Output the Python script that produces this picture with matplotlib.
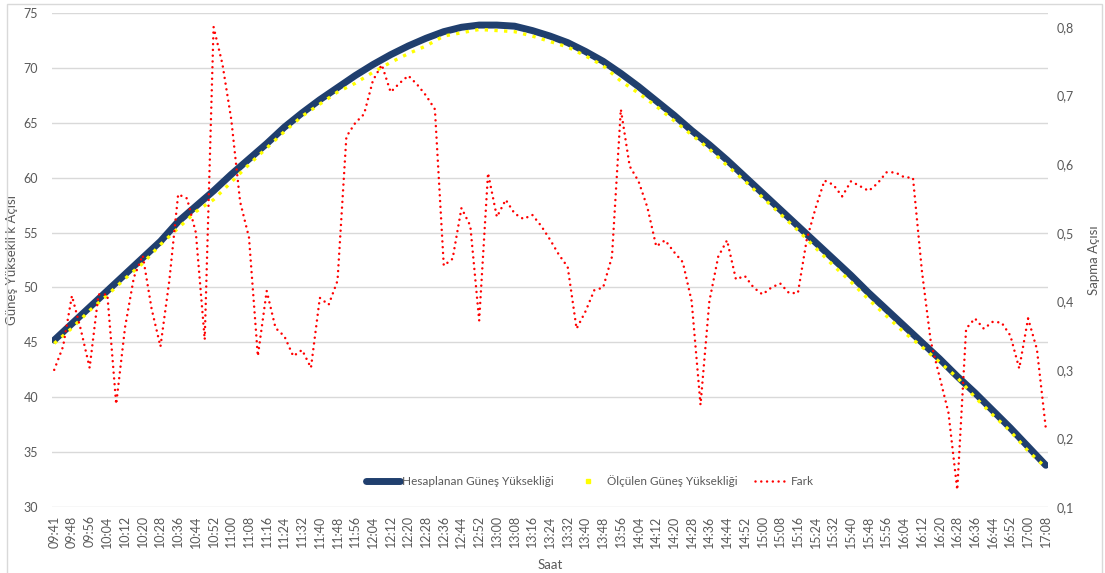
import matplotlib
matplotlib.use("Agg")
import matplotlib.pyplot as plt
from matplotlib.lines import Line2D
from matplotlib.patches import Rectangle
from matplotlib.ticker import FuncFormatter
import numpy as np

plt.rcParams['font.family'] = ['Lato', 'DejaVu Sans']

# tick labels (every 4th measurement time)
times = ["09:41", "09:48", "09:56", "10:04", "10:12", "10:20", "10:28", "10:36", "10:44", "10:52",
         "11:00", "11:08", "11:16", "11:24", "11:32", "11:40", "11:48", "11:56", "12:04", "12:12",
         "12:20", "12:28", "12:36", "12:44", "12:52", "13:00", "13:08", "13:16", "13:24", "13:32",
         "13:40", "13:48", "13:56", "14:04", "14:12", "14:20", "14:28", "14:36", "14:44", "14:52",
         "15:00", "15:08", "15:16", "15:24", "15:32", "15:40", "15:48", "15:56", "16:04", "16:12",
         "16:20", "16:28", "16:36", "16:44", "16:52", "17:00", "17:08"]

# calculated solar elevation, read at each labelled time
hesaplanan = [45.2, 46.7, 48.2, 49.7, 51.2, 52.7, 54.2, 56.0, 57.4, 58.8,
              60.3, 61.7, 63.1, 64.6, 65.9, 67.1, 68.2, 69.3, 70.3, 71.2,
              72.0, 72.7, 73.3, 73.7, 73.9, 73.9, 73.8, 73.4, 72.9, 72.3,
              71.5, 70.6, 69.5, 68.3, 67.0, 65.7, 64.3, 63.0, 61.6, 60.1,
              58.6, 57.1, 55.6, 54.1, 52.6, 51.1, 49.5, 48.0, 46.5, 45.0,
              43.5, 41.9, 40.4, 38.8, 37.2, 35.5, 33.8]

# measured solar elevation, read at each labelled time
olculen = [44.9, 46.3, 47.9, 49.3, 50.8, 52.2, 53.9, 55.4, 56.9, 58.0,
           59.6, 61.2, 62.7, 64.2, 65.6, 66.7, 67.8, 68.6, 69.6, 70.5,
           71.3, 72.0, 72.9, 73.2, 73.5, 73.4, 73.3, 72.9, 72.4, 71.9,
           71.1, 70.2, 68.8, 67.7, 66.5, 65.2, 63.9, 62.6, 61.1, 59.7,
           58.2, 56.7, 55.2, 53.6, 52.0, 50.5, 48.9, 47.4, 45.9, 44.6,
           43.2, 41.8, 40.0, 38.4, 36.9, 35.1, 33.6]

# difference (deviation angle), read every 2nd measurement
fark = [0.300, 0.334, 0.408, 0.359, 0.303, 0.410, 0.410, 0.250, 0.362, 0.435,
        0.467, 0.389, 0.334, 0.430, 0.556, 0.550, 0.500, 0.344, 0.800, 0.746,
        0.665, 0.545, 0.493, 0.320, 0.415, 0.361, 0.349, 0.320, 0.329, 0.303,
        0.405, 0.395, 0.430, 0.640, 0.660, 0.673, 0.722, 0.745, 0.705, 0.718,
        0.729, 0.716, 0.700, 0.680, 0.452, 0.462, 0.536, 0.510, 0.372, 0.587,
        0.523, 0.548, 0.528, 0.520, 0.526, 0.510, 0.490, 0.468, 0.450, 0.360,
        0.385, 0.416, 0.420, 0.465, 0.680, 0.597, 0.575, 0.537, 0.480, 0.489,
        0.472, 0.457, 0.400, 0.249, 0.400, 0.465, 0.489, 0.432, 0.437, 0.420,
        0.410, 0.420, 0.426, 0.412, 0.412, 0.490, 0.536, 0.576, 0.570, 0.553,
        0.575, 0.568, 0.561, 0.572, 0.588, 0.588, 0.581, 0.580, 0.445, 0.342,
        0.290, 0.238, 0.125, 0.360, 0.375, 0.360, 0.370, 0.369, 0.350, 0.302,
        0.375, 0.330, 0.215]

n_cat = 4 * (len(times) - 1) + 1
x_lab = np.arange(len(times)) * 4
x_fark = np.arange(len(fark)) * 2

gray = '#595959'
fig = plt.figure(figsize=(11.05, 5.73), dpi=100)
fig.patches.append(Rectangle((7 / 1105, -0.01), 1095 / 1105, 1 - 4 / 573 + 0.01,
                             transform=fig.transFigure, fill=False,
                             edgecolor='#d9d9d9', linewidth=1))

ax = fig.add_axes([52 / 1105, 1 - 507 / 573, 996 / 1105, 494 / 573])
ax2 = ax.twinx()

l1, = ax.plot(x_lab, hesaplanan, color='#203f6e', linewidth=5, solid_capstyle='round',
              zorder=2)
l2, = ax.plot(x_lab, olculen, color='#ffff00', linewidth=2.4,
              linestyle=(0, (1, 1.9)), dash_capstyle='butt', zorder=3)
l3, = ax2.plot(x_fark, fark, color='#ff0000', linewidth=1.8,
               linestyle=(0, (0.01, 2.3)), dash_capstyle='round')

ax.set_xlim(-0.5, n_cat - 0.5)
ax.set_ylim(30, 75)
ax.set_yticks(range(30, 80, 5))
ax2.set_ylim(0.1, 0.8204)
ax2.set_yticks(np.arange(1, 9) / 10)
ax2.yaxis.set_major_formatter(FuncFormatter(lambda v, p: f"{v:.1f}".replace('.', ',')))

ax.set_xticks(x_lab)
ax.set_xticklabels(times, rotation=90)
ax.grid(axis='y', color='#d9d9d9', linewidth=1)
ax.set_axisbelow(True)
for a in (ax, ax2):
    for s in a.spines.values():
        s.set_visible(False)
    a.tick_params(length=0, colors=gray, labelsize=9)
ax.tick_params(axis='x', pad=6)
ax.tick_params(axis='y', pad=10)
ax2.tick_params(axis='y', pad=6)

ax.set_xlabel('Saat', color=gray, fontsize=9.5, labelpad=8)
ax.set_ylabel('Güneş Yüksekli k Açısı', color=gray, fontsize=9.5)
ax.yaxis.set_label_coords(-0.034, 0.5)
ax2.set_ylabel('Sapma Açısı', color=gray, fontsize=9.5, labelpad=10)

h2 = Line2D([], [], color='#ffff00', marker='s', markersize=3, linestyle='none')
leg = ax.legend([l1, h2, l3],
                ['Hesaplanan Güneş Yüksekliği', 'Ölçülen Güneş Yüksekliği', 'Fark'],
                loc='center', bbox_to_anchor=(590 / 1105, 1 - 481 / 573),
                bbox_transform=fig.transFigure, ncol=3, frameon=False,
                fontsize=8.5, handlelength=2.9, handletextpad=0.2, columnspacing=1.4)
for t in leg.get_texts():
    t.set_color(gray)

fig.savefig('out.png', dpi=100)
